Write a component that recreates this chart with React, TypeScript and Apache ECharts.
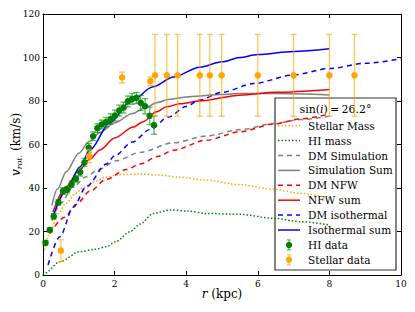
import React, { useEffect, useRef } from "react";
import * as echarts from "echarts";

// ---------- data ----------
const hiR = [0.07, 0.19, 0.3, 0.43, 0.56, 0.68, 0.8, 0.92, 1.04, 1.16, 1.28, 1.4, 1.52, 1.64, 1.76, 1.89, 2.01, 2.13, 2.25, 2.37, 2.49, 2.61, 2.73, 2.85, 2.98, 3.1];
const hiV = [14.8, 20.7, 27, 33.4, 38.6, 39.2, 41.8, 44.2, 47.3, 51.8, 58.5, 63.8, 67.5, 69.2, 70.3, 71.7, 73.3, 75.6, 77, 79.8, 81, 81.4, 79.1, 77.6, 73.2, 68.9];
const hiErr = [1, 1, 1.2, 1.3, 1.5, 1.5, 1.5, 1.5, 1.8, 1.8, 2, 2, 2, 2, 2.2, 2.4, 2.5, 2.5, 2.5, 2.5, 2.5, 2.5, 3.5, 3.5, 4, 4.2];

const starR = [0.5, 1.29, 2.21, 3.0, 3.13, 3.46, 3.76, 4.38, 4.66, 4.99, 6.0, 7.0, 8.0, 8.7];
const starV = [11.2, 54.7, 90.8, 89.1, 91.8, 91.8, 91.8, 91.8, 91.8, 91.8, 91.8, 91.8, 91.8, 91.8];
const starErr = [5, 3, 2.5, 2, 18.8, 18.8, 18.8, 18.8, 18.8, 18.8, 18.8, 18.8, 18.8, 18.8];

const stellarMass = [[0.05, 11.5], [0.19, 19.2], [0.42, 28.3], [0.65, 33], [0.9, 37.3], [1.12, 40.2], [1.4, 42.8], [1.77, 45], [2.15, 46.2], [2.7, 46.4], [3.2, 46], [3.8, 45], [4.57, 43.6], [5.5, 41.5], [6.44, 39.4], [7.2, 37.5], [8.0, 35.5]];
const hiMass = [[0, 0], [0.05, 0.8], [0.47, 6.1], [1.03, 10.7], [1.45, 11.8], [1.77, 13], [2.03, 15.3], [2.43, 19.9], [2.71, 23.4], [3.08, 28.3], [3.55, 29.9], [4.01, 29.4], [4.57, 28.3], [5.5, 27.9], [6.48, 26], [7.2, 24.5], [8.0, 23]];
const dmSim = [[0.25, 25], [0.5, 33], [0.84, 40.6], [1.21, 45.2], [1.54, 48.4], [2.05, 52.5], [2.71, 56.4], [3.64, 60.8], [4.57, 63.9], [5.5, 66.8], [6.44, 69.6], [7.2, 71.5], [8.0, 73]];
const simSum = [[0.25, 32], [0.4, 39.5], [0.65, 47.5], [1.0, 56], [1.3, 61.5], [1.59, 65.5], [2.0, 70], [2.5, 74.2], [2.8, 76.5], [3.2, 79.3], [3.5, 80.7], [4.1, 82], [5.0, 83], [5.5, 83.4], [6.5, 83.4], [8.0, 82.8]];
const dmNfw = [[0.19, 19], [0.6, 26.5], [0.93, 32.5], [1.31, 38.5], [1.77, 44], [2.33, 48.5], [2.71, 51], [3.2, 54.5], [3.64, 57.4], [4.57, 62], [5.5, 65.8], [6.44, 69.4], [7.2, 71.8], [8.0, 74]];
const nfwSum = [[0.28, 29], [0.65, 40.6], [1.0, 48], [1.31, 53.3], [1.59, 57.5], [2.0, 63], [2.52, 68], [2.8, 70.5], [3.17, 75], [3.45, 77.3], [3.82, 78.7], [4.38, 80], [5.5, 82.7], [6.5, 84], [8.0, 85.3]];
const dmIso = [[0.14, 4.6], [0.47, 17.6], [0.84, 31], [1.21, 40.6], [1.77, 51], [2.0, 54.8], [2.5, 61.2], [3.0, 67], [3.5, 72.6], [4.0, 77.5], [4.38, 80.5], [5.0, 84], [5.88, 88], [7.0, 92], [8.0, 94.9], [9.0, 97.3], [10.0, 99.5]];
const isoSum = [[0.28, 27], [0.65, 39], [1.03, 49.7], [1.31, 57.5], [1.87, 70], [2.43, 79.5], [3.08, 86.5], [3.64, 91], [4.38, 95.5], [5.0, 98], [5.5, 100], [6.0, 101.4], [7.0, 102.8], [8.0, 104]];

const xTicks = [0, 2, 4, 6, 8, 10];
const yTicks = [0, 20, 40, 60, 80, 100, 120];

const legendNames = ["Stellar Mass", "HI mass", "DM Simulation", "Simulation Sum", "DM NFW", "NFW sum", "DM isothermal", "Isothermal sum", "HI data", "Stellar data"];
const legendColors = ["#FFA500", "#008000", "#808080", "#808080", "#FF0000", "#FF0000", "#0000FF", "#0000FF", "#008000", "#FFA500"];
const legendKinds = ["dot", "dot", "dash", "solid", "dash", "solid", "dash", "solid", "point", "point"];

const FONT = "DejaVu Serif";
const DOT: number[] = [1.5, 2];
const DASH: number[] = [5, 4];

function errorSeries(name: string, rs: number[], vs: number[], es: number[], color: string, barColor: string) {
  return {
    type: "custom",
    name,
    itemStyle: { color },
    z: 5,
    data: rs.map((r, i) => [r, vs[i], es[i]]),
    encode: { x: 0, y: 1 },
    renderItem: (_p: any, api: any) => {
      const x = api.value(0);
      const y = api.value(1);
      const e = api.value(2);
      const c = api.coord([x, y]);
      const t = api.coord([x, y + e]);
      const b = api.coord([x, y - e]);
      const ls = { stroke: barColor, lineWidth: 1.3 };
      return {
        type: "group",
        children: [
          { type: "line", shape: { x1: c[0], y1: t[1], x2: c[0], y2: b[1] }, style: ls },
          { type: "line", shape: { x1: c[0] - 3, y1: t[1], x2: c[0] + 3, y2: t[1] }, style: ls },
          { type: "line", shape: { x1: c[0] - 3, y1: b[1], x2: c[0] + 3, y2: b[1] }, style: ls },
          { type: "circle", shape: { cx: c[0], cy: c[1], r: 3.3 }, style: { fill: color } },
        ],
      };
    },
  };
}

function lineSeries(name: string, data: number[][], color: string, type: any) {
  return {
    type: "line",
    name,
    data,
    symbol: "none",
    showSymbol: false,
    smooth: 0.3,
    smoothMonotone: "x",
    lineStyle: { color, width: 1.5, type },
    itemStyle: { color },
    z: 2,
  };
}

function legendGraphic() {
  const left = 275, top = 98, w = 121, h = 172;
  const children: any[] = [
    { type: "rect", shape: { x: left, y: top, width: w, height: h }, style: { fill: "#fff", stroke: "#333", lineWidth: 1.2 } },
    {
      type: "text",
      x: 335.5,
      y: 109.5,
      style: {
        text: "sin({i|i})\u2009=\u200926.2°",
        align: "center",
        verticalAlign: "middle",
        fontFamily: FONT,
        fontSize: 11,
        fill: "#000",
        rich: { i: { fontFamily: FONT, fontStyle: "italic", fontSize: 11 } },
      },
    },
  ];
  legendNames.forEach((name, i) => {
    const cy = 125.7 + i * 14.9;
    const kind = legendKinds[i];
    const color = legendColors[i];
    if (kind === "point") {
      const bar = color === "#008000" ? "rgba(0,128,0,0.6)" : "rgba(255,165,0,0.65)";
      children.push({ type: "line", shape: { x1: 289, y1: cy - 5, x2: 289, y2: cy + 5 }, style: { stroke: bar, lineWidth: 1.2 } });
      children.push({ type: "line", shape: { x1: 287, y1: cy - 5, x2: 291, y2: cy - 5 }, style: { stroke: bar, lineWidth: 1.2 } });
      children.push({ type: "line", shape: { x1: 287, y1: cy + 5, x2: 291, y2: cy + 5 }, style: { stroke: bar, lineWidth: 1.2 } });
      children.push({ type: "circle", shape: { cx: 289, cy, r: 3.2 }, style: { fill: color } });
    } else {
      children.push({
        type: "line",
        shape: { x1: 278, y1: cy, x2: 300, y2: cy },
        style: { stroke: color, lineWidth: 1.5, lineDash: kind === "dot" ? DOT : kind === "dash" ? DASH : null },
      });
    }
    children.push({
      type: "text",
      x: 308,
      y: cy,
      style: { text: name, fontFamily: FONT, fontSize: 10.5, fill: "#000", verticalAlign: "middle", align: "left" },
    });
  });
  return { type: "group", z: 10, children };
}

export default function App() {
  const ref = useRef<HTMLDivElement>(null);
  useEffect(() => {
    if (!ref.current) return;
    const chart = echarts.init(ref.current, undefined, { renderer: "svg" });
    const axisCommon = {
      type: "value",
      axisLine: { show: true, onZero: false, lineStyle: { color: "#000", width: 1 } },
      axisTick: { show: true, inside: true, length: 4, lineStyle: { color: "#000", width: 1 } },
      splitLine: { show: false },
    };
    const labelStyle = { fontFamily: FONT, fontSize: 9, color: "#000" };
    chart.setOption({
      animation: false,
      backgroundColor: "#fff",
      grid: { left: 43, right: 14, top: 14, bottom: 37, containLabel: false, outerBoundsMode: "none" },
      legend: { show: false, data: legendNames },
      xAxis: [
        {
          ...axisCommon,
          position: "bottom",
          min: xTicks[0],
          max: xTicks[xTicks.length - 1],
          interval: 2,
          axisLabel: { ...labelStyle, margin: 4 },
          name: "{i|r} (kpc)",
          nameLocation: "middle",
          nameGap: 13,
          nameMoveOverlap: false,
          nameTextStyle: {
            fontFamily: FONT,
            fontSize: 12,
            color: "#000",
            rich: { i: { fontFamily: FONT, fontStyle: "italic", fontSize: 12, color: "#000" } },
          },
        },
        {
          ...axisCommon,
          position: "top",
          min: xTicks[0],
          max: xTicks[xTicks.length - 1],
          interval: 2,
          axisLabel: { show: false },
        },
      ],
      yAxis: [
        {
          ...axisCommon,
          position: "left",
          min: yTicks[0],
          max: yTicks[yTicks.length - 1],
          interval: 20,
          axisLabel: { ...labelStyle, margin: 3 },
          name: "{i|v}{s|rot.} (km/s)",
          nameLocation: "middle",
          nameRotate: 90,
          nameGap: 20,
          nameMoveOverlap: false,
          nameTextStyle: {
            fontFamily: FONT,
            fontSize: 12,
            color: "#000",
            rich: {
              i: { fontFamily: FONT, fontStyle: "italic", fontSize: 12, color: "#000" },
              s: { fontFamily: FONT, fontStyle: "italic", fontSize: 8, color: "#000", padding: [6, 0, 0, 0] },
            },
          },
        },
        {
          ...axisCommon,
          position: "right",
          min: yTicks[0],
          max: yTicks[yTicks.length - 1],
          interval: 20,
          axisLabel: { show: false },
        },
      ],
      graphic: [legendGraphic()],
      series: [
        lineSeries("Stellar Mass", stellarMass, "#FFA500", DOT),
        lineSeries("HI mass", hiMass, "#008000", DOT),
        lineSeries("DM Simulation", dmSim, "#808080", DASH),
        lineSeries("Simulation Sum", simSum, "#808080", "solid"),
        lineSeries("DM NFW", dmNfw, "#FF0000", DASH),
        lineSeries("NFW sum", nfwSum, "#FF0000", "solid"),
        lineSeries("DM isothermal", dmIso, "#0000FF", DASH),
        lineSeries("Isothermal sum", isoSum, "#0000FF", "solid"),
        errorSeries("HI data", hiR, hiV, hiErr, "#008000", "rgba(0,128,0,0.6)"),
        errorSeries("Stellar data", starR, starV, starErr, "#FFA500", "rgba(255,165,0,0.65)"),
      ],
    });
    return () => chart.dispose();
  }, []);
  return <div ref={ref} style={{ position: "absolute", left: 0, top: 0, width: 415, height: 312 }} />;
}
